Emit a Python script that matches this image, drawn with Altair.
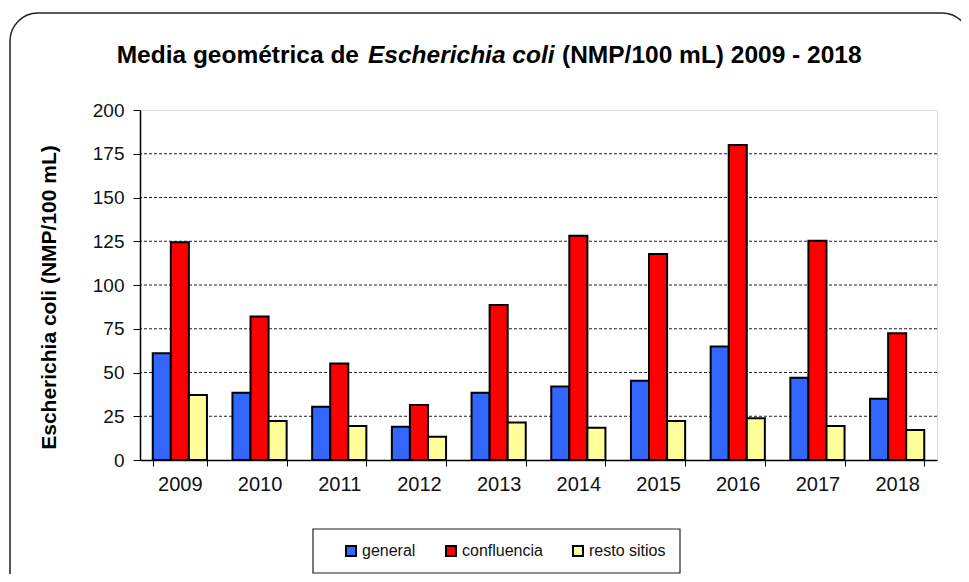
import altair as alt
import pandas as pd

years = ["2009", "2010", "2011", "2012", "2013", "2014", "2015", "2016", "2017", "2018"]
series = ["general", "confluencia", "resto sitios"]
colors = ["#3366FF", "#FF0000", "#FFFF99"]
general = [61, 38.5, 30.5, 19, 38.5, 42, 45.3, 64.8, 47, 35]
confluencia = [124.4, 82, 55.2, 31.4, 88.6, 128.2, 117.7, 180, 125.3, 72.4]
resto = [37.1, 22.3, 19.4, 13.3, 21.5, 18.5, 22.3, 23.8, 19.4, 17.1]
grid_values = [25, 50, 75, 100, 125, 150, 175]
y_ticks = [0, 25, 50, 75, 100, 125, 150, 175, 200]

rows = []
for i, y in enumerate(years):
    for s, vals in zip(series, [general, confluencia, resto]):
        rows.append({"year": y, "serie": s, "value": vals[i]})
df = pd.DataFrame(rows)
one = pd.DataFrame({"k": [0]})

W, H = 797, 350
FONT = "Liberation Sans"

frame = alt.Chart(one).mark_rect(
    fillOpacity=0, stroke="#222", strokeWidth=1.5, cornerRadius=28, clip=False
).encode(x=alt.value(-130), x2=alt.value(830), y=alt.value(-97), y2=alt.value(490))

grid = alt.Chart(pd.DataFrame({"g": grid_values})).mark_rule(
    color="#222", strokeDash=[3, 2], strokeWidth=1
).encode(y=alt.Y("g:Q", scale=alt.Scale(domain=[0, 200])))

bars = alt.Chart(df).mark_bar(stroke="black", strokeWidth=2).encode(
    x=alt.X(
        "year:N",
        sort=years,
        scale=alt.Scale(paddingInner=0.32, paddingOuter=0.16),
        axis=alt.Axis(
            title=None, tickBand="extent", labelAngle=0, labelFont=FONT, labelFontSize=20,
            labelColor="#111", tickColor="black", tickSize=6, domainColor="black",
            domainWidth=1.5, labelPadding=8, grid=False, zindex=1,
        ),
    ),
    xOffset=alt.XOffset("serie:N", sort=series, scale=alt.Scale(paddingInner=0, paddingOuter=0)),
    y=alt.Y(
        "value:Q",
        scale=alt.Scale(domain=[0, 200]),
        axis=alt.Axis(
            title="Escherichia coli  (NMP/100 mL)", values=y_ticks, grid=False,
            labelFont=FONT, labelFontSize=19, labelColor="#111", tickColor="black",
            tickSize=7, domainColor="black", domainWidth=1.5, labelPadding=9,
            titleFont=FONT, titleFontSize=21, titleFontWeight="bold", titleColor="black",
            titleX=-91, titleY=187, titleAngle=270, titleAlign="center", titleBaseline="middle",
            zindex=1,
        ),
    ),
    color=alt.Color(
        "serie:N",
        sort=series,
        scale=alt.Scale(domain=series, range=colors),
        legend=alt.Legend(
            title=None, orient="none", legendX=203, legendY=433, direction="horizontal",
            symbolType="square", symbolSize=100, symbolStrokeColor="black",
            symbolStrokeWidth=2, labelFont=FONT, labelFontSize=16, labelColor="#111",
            columnPadding=26, labelOffset=3, padding=0,
        ),
    ),
)

legend_box = alt.Chart(one).mark_rect(fill="white", stroke="#222", strokeWidth=1.2, clip=False).encode(
    x=alt.value(173), x2=alt.value(540), y=alt.value(419), y2=alt.value(463)
)

TF = "Liberation Sans"
TS = 24.5
TY = -47
t1 = alt.Chart(one).mark_text(
    text="Media geométrica de", font=TF, fontSize=TS, fontWeight="bold", align="right",
    baseline="alphabetic", color="black"
).encode(x=alt.value(219), y=alt.value(TY))
t2 = alt.Chart(one).mark_text(
    text="Escherichia coli", font=TF, fontSize=TS, fontWeight="bold", fontStyle="italic",
    align="left", baseline="alphabetic", color="black"
).encode(x=alt.value(228), y=alt.value(TY))
t3 = alt.Chart(one).mark_text(
    text="(NMP/100 mL) 2009 - 2018", font=TF, fontSize=TS, fontWeight="bold", align="left",
    baseline="alphabetic", color="black"
).encode(x=alt.value(422), y=alt.value(TY))

chart = alt.layer(frame, legend_box, grid, bars, t1, t2, t3).properties(
    width=W, height=H,
    autosize=alt.AutoSizeParams(type="none"),
    padding={"left": 132, "top": 102, "right": 24, "bottom": 114},
).configure_view(stroke="#999", strokeWidth=2).configure(background="white")

chart.save("out.html", embed_options={"renderer": "svg", "actions": False})
